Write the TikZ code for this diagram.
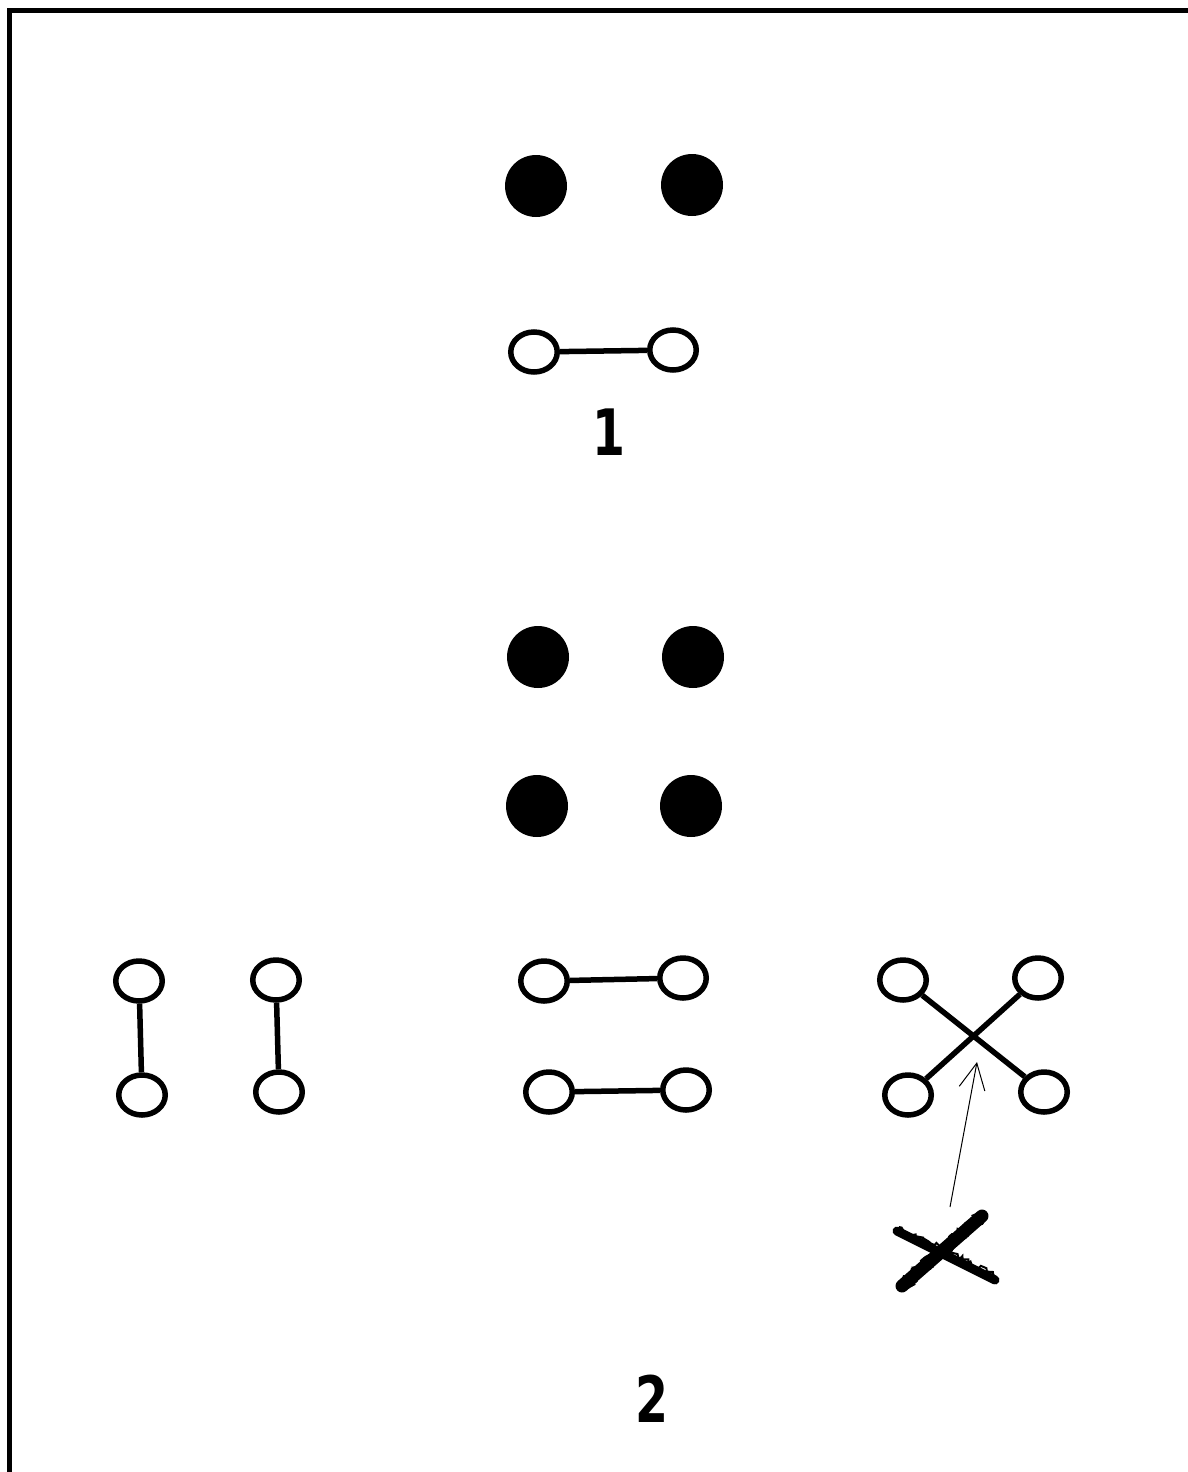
\documentclass[tikz,border=0pt]{standalone}
\usepackage{fontspec}
\setmainfont{DejaVu Sans}
\usetikzlibrary{shapes.geometric,arrows.meta,decorations.pathmorphing}
\newcommand{\digitlab}[1]{\scalebox{0.74}[1]{\bfseries\fontsize{64}{64}\selectfont #1}}
\begin{document}
\begin{tikzpicture}[x=1pt,y=-1pt,
  full/.style={circle,fill=black,inner sep=0pt,minimum size=62pt},
  open/.style={ellipse,draw=black,fill=white,line width=5.5pt,inner sep=0pt,minimum width=46.5pt,minimum height=40pt},
  bond/.style={line width=5.5pt},
  label/.style={inner sep=0pt},
  pointer/.style={line width=1pt,-{Straight Barb[length=26pt,width=26pt,line width=1pt]}},
  scribble/.style={line width=13pt,line cap=round},
  fuzz/.style={line width=2pt,decorate,decoration={random steps,segment length=3pt,amplitude=2.5pt}}]
\useasboundingbox (0,0) rectangle (1188,1472);
\draw[line width=5pt] (9.5,1472) -- (9.5,11) -- (1188,11);
% part 1
\node[full] (a1) at (536,186) {};
\node[full] (a2) at (692,185) {};
\node[open] (o1) at (534,352) {};
\node[open] (o2) at (673,350) {};
\draw[bond] (o1) -- (o2);
\node[label] (n1) at (609,432) {\digitlab{1}};
% part 2
\node[full] (b1) at (538,657) {};
\node[full] (b2) at (693,657) {};
\node[full] (b3) at (537,806) {};
\node[full] (b4) at (691,806) {};
% vertical pairs
\node[open] (v1) at (139,981) {};
\node[open] (v2) at (142,1095) {};
\draw[bond] (v1) -- (v2);
\node[open] (v3) at (276,980) {};
\node[open] (v4) at (279,1092) {};
\draw[bond] (v3) -- (v4);
% horizontal pairs
\node[open] (h1) at (544,981) {};
\node[open] (h2) at (683,978) {};
\draw[bond] (h1) -- (h2);
\node[open] (h3) at (549,1092) {};
\node[open] (h4) at (686,1090) {};
\draw[bond] (h3) -- (h4);
% crossed pairs
\node[open] (x1) at (903,980) {};
\node[open] (x2) at (1038,978) {};
\node[open] (x3) at (908,1095) {};
\node[open] (x4) at (1044,1092) {};
\draw[bond] (x1) -- (x4);
\draw[bond] (x3) -- (x2);
% pointer and scribbled cross
\coordinate (ptail) at (950,1207);
\coordinate (phead) at (977,1062);
\draw[pointer] (ptail) -- (phead);
\coordinate (s1a) at (902,1286);
\coordinate (s1b) at (982,1216);
\coordinate (s2a) at (897,1231);
\coordinate (s2b) at (995,1280);
\draw[scribble,line width=9pt] (s2a) -- (s2b);
\draw[fuzz] (s2a) -- (s2b);
\draw[fuzz] ([shift={(2,-4)}]s2a) -- ([shift={(0,-5)}]s2b);
\draw[scribble] (s1a) -- (s1b);
\draw[fuzz] ([shift={(-3,-3)}]s1a) -- ([shift={(-3,-3)}]s1b);
\draw[fuzz] ([shift={(3,3)}]s1a) -- ([shift={(3,3)}]s1b);
\node[label] (n2) at (652,1399) {\digitlab{2}};
\end{tikzpicture}
\end{document}
